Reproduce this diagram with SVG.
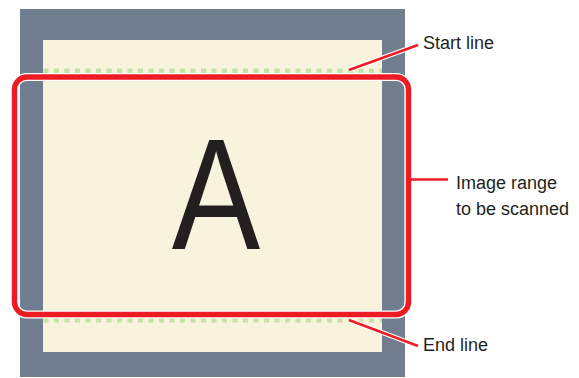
<svg xmlns="http://www.w3.org/2000/svg" width="579" height="378" viewBox="0 0 579 378">
<style>
.lbl{font-family:"Liberation Sans",Arial,sans-serif;font-size:18px;fill:#231f20}
.dots{stroke:#c4e2a5;stroke-width:4.6;stroke-dasharray:5 5.5;fill:none}
.halo{stroke:#ffffff;fill:none}
.red{stroke:#ed1c24;fill:none}
</style>
<rect width="579" height="378" fill="#ffffff"/>
<g id="scanner">
<rect x="20" y="9" width="385" height="368" fill="#707e90"/>
<rect x="43" y="40" width="339" height="312" fill="#f8f3dc"/>
<line class="dots" x1="43.5" y1="70.9" x2="382" y2="70.9"/>
<line class="dots" x1="43.5" y1="320.3" x2="382" y2="320.3"/>
<text x="216" y="249" text-anchor="middle" transform="translate(216 0) scale(0.84 1) translate(-216 0)" style="font-family:'Liberation Sans',Arial,sans-serif;font-size:158px;fill:#231f20">A</text>
</g>
<g id="range">
<rect class="halo" x="14.5" y="77" width="394" height="237.5" rx="12.5" stroke-width="8.2"/>
<rect class="red" x="14.5" y="77" width="394" height="237.5" rx="12.5" stroke-width="5.4"/>
</g>
<g id="connectors">
<line class="halo" x1="349" y1="70" x2="418" y2="45" stroke-width="5"/>
<line class="red" x1="349" y1="70" x2="418" y2="45" stroke-width="2.5"/>
<line class="halo" x1="349" y1="320" x2="418" y2="346" stroke-width="5"/>
<line class="red" x1="349" y1="320" x2="418" y2="346" stroke-width="2.5"/>
<line class="red" x1="411" y1="179.5" x2="448" y2="179.5" stroke-width="2.5"/>
</g>
<g id="label-start"><text class="lbl" x="423" y="49">Start line</text></g>
<g id="label-range"><text class="lbl" x="456" y="189">Image range</text><text class="lbl" x="456" y="215">to be scanned</text></g>
<g id="label-end"><text class="lbl" x="423" y="351">End line</text></g>
</svg>
